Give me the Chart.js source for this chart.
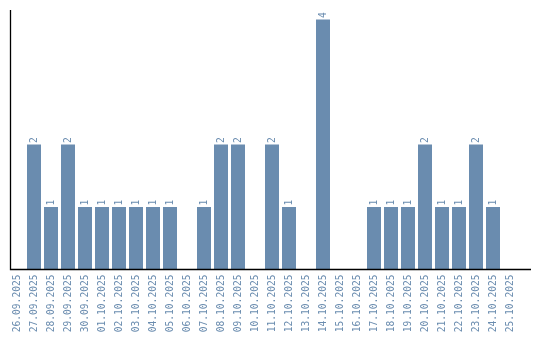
<!DOCTYPE html>
<html><head><meta charset="utf-8">
<script src="https://cdn.jsdelivr.net/npm/chart.js@4/dist/chart.umd.min.js"></script>
<style>html,body{margin:0;padding:0;background:#fff}canvas{display:block}</style>
</head><body>
<canvas id="c" width="540" height="340"></canvas>
<script>
const categories = ["26.09.2025","27.09.2025","28.09.2025","29.09.2025","30.09.2025","01.10.2025","02.10.2025","03.10.2025","04.10.2025","05.10.2025","06.10.2025","07.10.2025","08.10.2025","09.10.2025","10.10.2025","11.10.2025","12.10.2025","13.10.2025","14.10.2025","15.10.2025","16.10.2025","17.10.2025","18.10.2025","19.10.2025","20.10.2025","21.10.2025","22.10.2025","23.10.2025","24.10.2025","25.10.2025"];
const counts = [0,2,1,2,1,1,1,1,1,1,0,1,2,2,0,2,1,0,4,0,0,1,1,1,2,1,1,2,1,0];
const yMax = 4.15;

const COLOR = '#6a8caf';
const FAMILY = '"DejaVu Sans Mono", monospace';
const FONT_SIZE = 9.6;

const valueLabels = {
  id: 'valueLabels',
  afterDatasetsDraw(chart) {
    const ctx = chart.ctx;
    const meta = chart.getDatasetMeta(0);
    ctx.save();
    ctx.font = FONT_SIZE + 'px ' + FAMILY;
    ctx.fillStyle = COLOR;
    meta.data.forEach((bar, i) => {
      const v = counts[i];
      if (!v) return;
      ctx.save();
      ctx.translate(bar.x, bar.y - 1.5);
      ctx.rotate(-Math.PI / 2);
      ctx.textAlign = 'left';
      ctx.textBaseline = 'middle';
      ctx.fillText(String(v), 0, 0);
      ctx.restore();
    });
    ctx.restore();
  }
};

const axisLines = {
  id: 'axisLines',
  afterDatasetsDraw(chart) {
    const ctx = chart.ctx;
    const a = chart.chartArea;
    ctx.save();
    ctx.strokeStyle = '#000';
    ctx.lineWidth = 1.3;
    ctx.beginPath();
    ctx.moveTo(a.left + 2, a.top);
    ctx.lineTo(a.left + 2, a.bottom);
    ctx.lineTo(a.right + 12.5, a.bottom);
    ctx.stroke();
    ctx.restore();
  }
};

new Chart(document.getElementById('c'), {
  type: 'bar',
  data: {
    labels: categories,
    datasets: [{ data: counts, backgroundColor: COLOR, barPercentage: 0.8235, categoryPercentage: 1 }]
  },
  options: {
    responsive: false,
    animation: false,
    layout: { padding: { left: 8.5, right: 21.5, top: 10, bottom: 0 } },
    plugins: { legend: { display: false }, tooltip: { enabled: false } },
    scales: {
      x: {
        grid: { display: false, drawTicks: false },
        border: { display: false },
        ticks: { color: COLOR, font: { family: FAMILY, size: FONT_SIZE }, minRotation: 90, maxRotation: 90, autoSkip: false, padding: 5 },
        afterFit(scale) { scale.height = 70.5; }
      },
      y: {
        display: false,
        min: 0, max: yMax
      }
    }
  },
  plugins: [valueLabels, axisLines]
});
</script>
</body></html>
